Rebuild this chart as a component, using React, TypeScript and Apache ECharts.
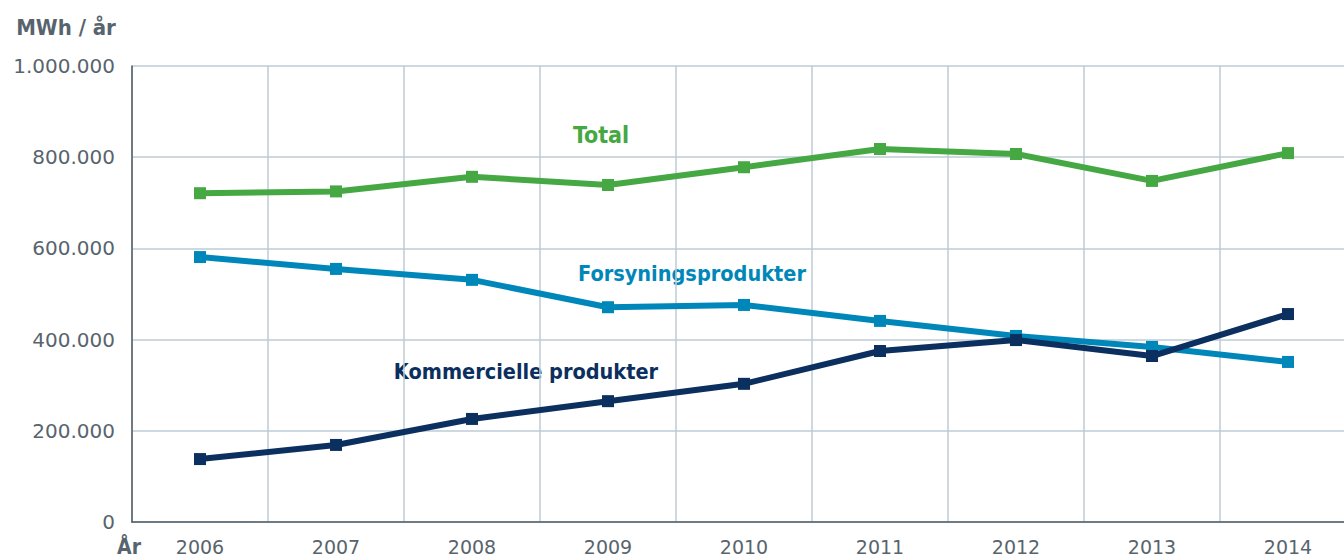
import React, { useEffect, useRef } from "react";
import * as echarts from "echarts";

const years = ["2006", "2007", "2008", "2009", "2010", "2011", "2012", "2013", "2014"];
const total = [721000, 725000, 757000, 739000, 778000, 818000, 807000, 748000, 809000];
const forsyning = [581000, 555000, 531000, 471000, 476000, 441000, 408000, 384000, 351000];
const kommercielle = [138000, 169000, 226000, 265000, 303000, 375000, 399000, 364000, 456000];
const yTicks = { min: 0, max: 1000000, interval: 200000 };

const GREEN = "#45a843";
const BLUE = "#0087b9";
const NAVY = "#0b2f5e";
const GREY = "#58646d";
const FONT = "'DejaVu Sans', sans-serif";
const BOLD = "'DejaVu Sans Condensed', 'DejaVu Sans', sans-serif";

function fmt(v: number) {
  return String(Math.round(v)).replace(/\B(?=(\d{3})+(?!\d))/g, ".");
}

export default function App() {
  const ref = useRef<HTMLDivElement>(null);
  useEffect(() => {
    if (!ref.current) return;
    const chart = echarts.init(ref.current, undefined, { renderer: "svg" });
    const lineSeries = (name: string, data: number[], color: string) => ({
      name,
      type: "line",
      data,
      symbol: "rect",
      symbolSize: 12,
      lineStyle: { color, width: 6 },
      itemStyle: { color },
      z: 3,
    });
    const label = (text: string, x: number, y: number, color: string, size: number) => ({
      type: "text",
      x,
      y,
      style: {
        text,
        fill: color,
        fontSize: size,
        fontWeight: "bold",
        fontFamily: BOLD,
        align: "center",
        verticalAlign: "middle",
      },
    });
    chart.setOption({
      animation: false,
      textStyle: { fontFamily: FONT },
      grid: { left: 132, top: 66, width: 1224, height: 456, containLabel: false },
      xAxis: {
        type: "category",
        data: years,
        boundaryGap: true,
        axisLine: { show: true, lineStyle: { color: "#4f5b64", width: 1.5 } },
        axisTick: { show: false },
        axisLabel: { color: GREY, fontSize: 19, margin: 15, fontFamily: FONT },
        splitLine: { show: true, lineStyle: { color: "#bccbd6", width: 1.5 } },
      },
      yAxis: {
        type: "value",
        min: yTicks.min,
        max: yTicks.max,
        interval: yTicks.interval,
        axisLine: { show: true, lineStyle: { color: "#4f5b64", width: 1.5 } },
        axisTick: { show: false },
        axisLabel: {
          color: GREY,
          fontSize: 20,
          margin: 17,
          fontFamily: FONT,
          formatter: (v: number) => fmt(v),
        },
        splitLine: { show: true, lineStyle: { color: "#bccbd6", width: 1.5 } },
      },
      series: [
        lineSeries("Total", total, GREEN),
        lineSeries("Forsyningsprodukter", forsyning, BLUE),
        lineSeries("Kommercielle produkter", kommercielle, NAVY),
      ],
      graphic: [
        label("MWh / år", 66, 27, GREY, 22),
        label("År", 129, 547, GREY, 21),
        label("Total", 601, 135, GREEN, 23),
        label("Forsyningsprodukter", 692, 273, BLUE, 21.5),
        label("Kommercielle produkter", 526, 371, NAVY, 21.5),
      ],
    });
    return () => chart.dispose();
  }, []);
  return (
    <div
      ref={ref}
      style={{ position: "fixed", left: 0, top: 0, width: 1356, height: 559, background: "#fff" }}
    />
  );
}
